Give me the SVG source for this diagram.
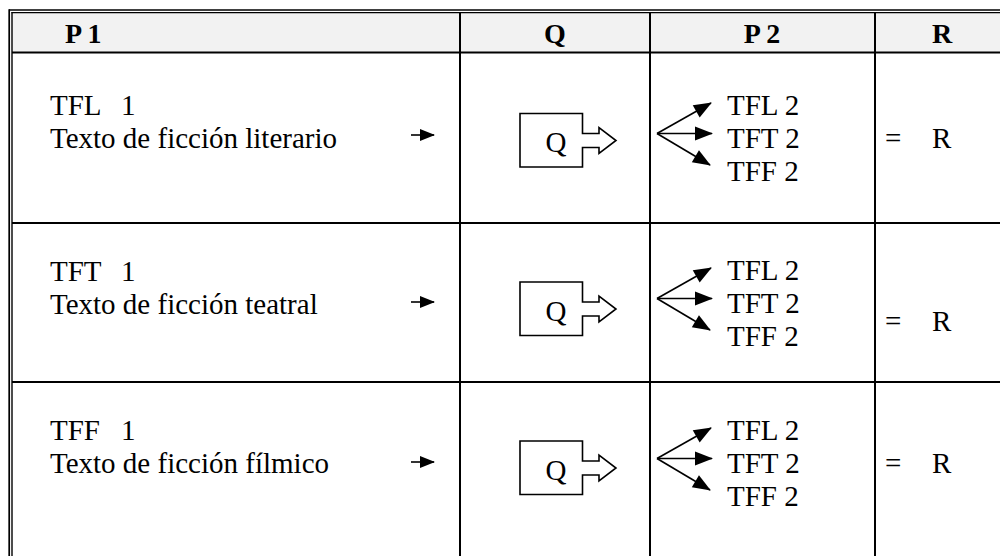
<svg xmlns="http://www.w3.org/2000/svg" width="1000" height="556" viewBox="0 0 1000 556">
<style>
.t{font-family:'Liberation Serif','Times New Roman',serif;font-size:29px;fill:#000}
.h{font-family:'Liberation Serif','Times New Roman',serif;font-size:28px;font-weight:bold;fill:#000}
.g{stroke:#000;stroke-width:2;fill:none}
.c{stroke:#000;stroke-width:1.6;fill:none}
.qb{stroke:#000;stroke-width:1.6;fill:#fff}
</style>
<defs>
<marker id="ah" markerUnits="userSpaceOnUse" markerWidth="18" markerHeight="14" refX="17" refY="7" orient="auto" overflow="visible">
<path d="M0,0 L18,7 L0,14 Z" fill="#000"/>
</marker>
<marker id="as" markerUnits="userSpaceOnUse" markerWidth="15" markerHeight="12" refX="14" refY="6" orient="auto" overflow="visible">
<path d="M0,0 L15,6 L0,12 Z" fill="#000"/>
</marker>
</defs>
<rect x="0" y="0" width="1000" height="556" fill="#fff"/>
<g id="grid">
<rect x="12" y="12.5" width="990" height="40" fill="#f2f2f2"/>
<line x1="9" y1="10" x2="1000" y2="10" stroke="#000" stroke-width="1.6"/>
<line x1="11.5" y1="12.6" x2="1000" y2="12.6" stroke="#000" stroke-width="1.2"/>
<line x1="9.2" y1="9.2" x2="9.2" y2="556" stroke="#000" stroke-width="1.7"/>
<line x1="12" y1="12" x2="12" y2="556" stroke="#000" stroke-width="1.4"/>
<line class="g" x1="12" y1="52.5" x2="1000" y2="52.5"/>
<line class="g" x1="12" y1="223" x2="1000" y2="223"/>
<line class="g" x1="12" y1="382" x2="1000" y2="382"/>
<line class="g" x1="460" y1="13" x2="460" y2="556"/>
<line class="g" x1="650" y1="13" x2="650" y2="556"/>
<line class="g" x1="875" y1="13" x2="875" y2="556"/>
</g>
<g id="header">
<text class="h" x="65" y="43">P 1</text>
<text class="h" x="555" y="43" text-anchor="middle">Q</text>
<text class="h" x="762" y="43" text-anchor="middle">P 2</text>
<text class="h" x="942" y="43" text-anchor="middle">R</text>
</g>
<g id="row1">
<g id="p1-1"><text class="t" x="50" y="115">TFL <tspan x="121">1</tspan></text><text class="t" x="50" y="148">Texto de ficción literario</text></g>
<g id="q1"><path class="qb" d="M520,113.5 H582.5 V133.5 H599 V127.5 L616,140.5 L599,153.5 V147.5 H582.5 V167 H520 Z"/><text class="t" x="556" y="152" text-anchor="middle">Q</text></g>
<g id="p2-1"><text class="t" x="727" y="115">TFL 2</text><text class="t" x="727" y="148">TFT 2</text><text class="t" x="727" y="181">TFF 2</text></g>
<g id="r1"><text class="t" x="885" y="148">=</text><text class="t" x="932" y="148">R</text></g>
</g>
<g id="row2">
<g id="p1-2"><text class="t" x="50" y="281">TFT <tspan x="121">1</tspan></text><text class="t" x="50" y="314">Texto de ficción teatral</text></g>
<g id="q2"><path class="qb" d="M520,282 H582.5 V302 H599 V296 L616,309 L599,322 V316 H582.5 V335.5 H520 Z"/><text class="t" x="556" y="320.5" text-anchor="middle">Q</text></g>
<g id="p2-2"><text class="t" x="727" y="280">TFL 2</text><text class="t" x="727" y="313">TFT 2</text><text class="t" x="727" y="346">TFF 2</text></g>
<g id="r2"><text class="t" x="885" y="331">=</text><text class="t" x="932" y="331">R</text></g>
</g>
<g id="row3">
<g id="p1-3"><text class="t" x="50" y="440">TFF <tspan x="121">1</tspan></text><text class="t" x="50" y="473">Texto de ficción fílmico</text></g>
<g id="q3"><path class="qb" d="M520,441 H582.5 V461 H599 V455 L616,468 L599,481 V475 H582.5 V494.5 H520 Z"/><text class="t" x="556" y="479.5" text-anchor="middle">Q</text></g>
<g id="p2-3"><text class="t" x="727" y="440">TFL 2</text><text class="t" x="727" y="473">TFT 2</text><text class="t" x="727" y="506">TFF 2</text></g>
<g id="r3"><text class="t" x="885" y="473">=</text><text class="t" x="932" y="473">R</text></g>
</g>
<g id="connectors">
<line class="c" x1="411" y1="135" x2="434" y2="135" marker-end="url(#as)"/>
<line class="c" x1="411" y1="302" x2="434" y2="302" marker-end="url(#as)"/>
<line class="c" x1="411" y1="462" x2="434" y2="462" marker-end="url(#as)"/>
<line class="c" x1="657" y1="133.5" x2="711" y2="103" marker-end="url(#ah)"/>
<line class="c" x1="657" y1="133.5" x2="712" y2="133.5" marker-end="url(#ah)"/>
<line class="c" x1="657" y1="133.5" x2="710" y2="165" marker-end="url(#ah)"/>
<line class="c" x1="657" y1="298.5" x2="711" y2="268" marker-end="url(#ah)"/>
<line class="c" x1="657" y1="298.5" x2="712" y2="298.5" marker-end="url(#ah)"/>
<line class="c" x1="657" y1="298.5" x2="710" y2="330" marker-end="url(#ah)"/>
<line class="c" x1="657" y1="458.5" x2="711" y2="428" marker-end="url(#ah)"/>
<line class="c" x1="657" y1="458.5" x2="712" y2="458.5" marker-end="url(#ah)"/>
<line class="c" x1="657" y1="458.5" x2="710" y2="490" marker-end="url(#ah)"/>
</g>
</svg>
